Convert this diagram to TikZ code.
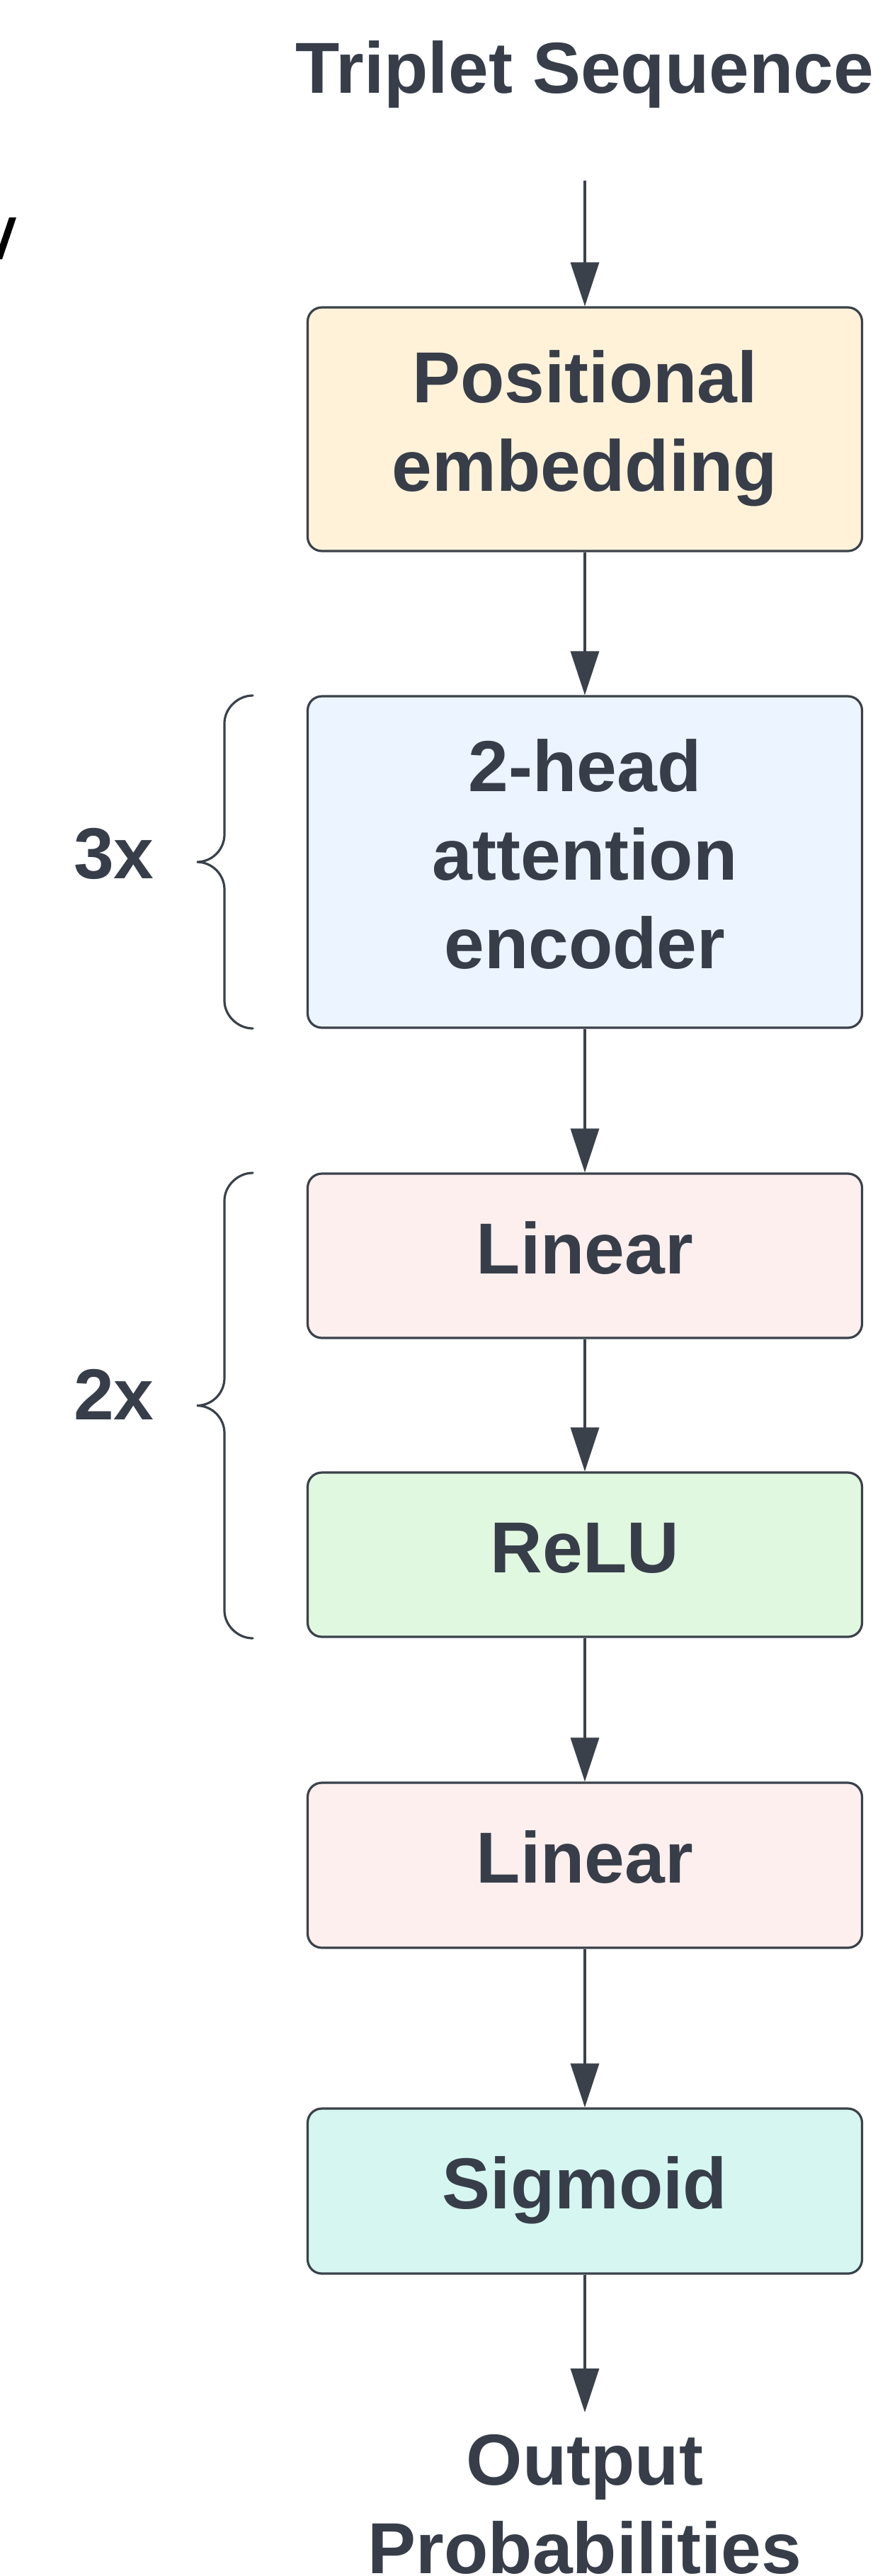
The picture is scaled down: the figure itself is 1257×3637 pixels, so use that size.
\documentclass[tikz,border=0pt]{standalone}
\usepackage{fontspec}
\setmainfont{Liberation Sans}
\usetikzlibrary{arrows.meta}

\definecolor{ink}{RGB}{55,62,73}
\definecolor{edge}{RGB}{58,65,74}
\definecolor{fillYellow}{RGB}{255,242,217}
\definecolor{fillBlue}{RGB}{236,244,255}
\definecolor{fillPink}{RGB}{253,239,238}
\definecolor{fillGreen}{RGB}{225,248,224}
\definecolor{fillCyan}{RGB}{214,247,241}

% centred stack of lines, baseline on the first line when [t] is given
\newcommand{\stacklines}[2][c]{\begin{tabular}[#1]{@{}c@{}}#2\end{tabular}}
\newcommand{\labelfont}{\fontsize{51pt}{62.5pt}\selectfont\bfseries}

\tikzset{
  layerbox/.style={draw=edge, line width=1.6pt, rounded corners=10pt,
    inner sep=0pt, minimum width=391.5pt, text=ink, font=\labelfont},
  plaintext/.style={inner sep=0pt, text=ink, font=\labelfont},
  flow/.style={draw=edge, line width=1.6pt,
    -{Triangle[width=20pt,length=31pt]}},
  bracket/.style={draw=edge, line width=1.6pt, line cap=round}
}

\begin{document}
\begin{tikzpicture}[x=0.5pt, y=-0.5pt]
  \useasboundingbox (0,0) rectangle (1257,3637);

  % stray italic stroke at the upper left edge
  \fill[black] (13,307) -- (23,307) -- (3,366) -- (-7,366) -- cycle;

  % input and output labels
  \node[plaintext, anchor=base] (title) at (826,131) {Triplet Sequence};
  \node[plaintext, anchor=base] (outp) at (826,3508)
    {\stacklines[t]{Output\\Probabilities}};

  % network layers
  \node[layerbox, fill=fillYellow, minimum height=172pt] (pos) at (826,606)
    {\stacklines{Positional\\embedding}};
  \node[layerbox, fill=fillBlue, minimum height=234pt] (att) at (826,1217)
    {\stacklines{2-head\\attention\\encoder}};
  \node[layerbox, fill=fillPink, minimum height=116pt] (lin1) at (826,1773)
    {\stacklines{Linear}};
  \node[layerbox, fill=fillGreen, minimum height=116pt] (relu) at (826,2195)
    {\stacklines{ReLU}};
  \node[layerbox, fill=fillPink, minimum height=116.5pt] (lin2) at (826,2633.5)
    {\stacklines{Linear}};
  \node[layerbox, fill=fillCyan, minimum height=116.5pt] (sig) at (826,3093.5)
    {\stacklines{Sigmoid}};

  % free ends of the input and output arrows
  \coordinate (inStart) at (826,255);
  \coordinate (outEnd) at (826,3406);

  % data flow
  \draw[flow] (inStart) -- (pos);
  \draw[flow] (pos) -- (att);
  \draw[flow] (att) -- (lin1);
  \draw[flow] (lin1) -- (relu);
  \draw[flow] (relu) -- (lin2);
  \draw[flow] (lin2) -- (sig);
  \draw[flow] (sig) -- (outEnd);

  % repetition braces
  \draw[bracket] (357,982) .. controls (335.5,982) and (317,1000.5) .. (317,1021)
    -- (317,1178) .. controls (317,1199.5) and (299.5,1217) .. (278,1217)
    .. controls (299.5,1217) and (317,1234.5) .. (317,1256)
    -- (317,1413) .. controls (317,1433.5) and (335.5,1452) .. (357,1452);
  \draw[bracket] (357,1656) .. controls (335.5,1656) and (317,1674.5) .. (317,1695)
    -- (317,1945.5) .. controls (317,1967) and (299.5,1984.5) .. (278,1984.5)
    .. controls (299.5,1984.5) and (317,2002) .. (317,2023.5)
    -- (317,2274) .. controls (317,2294.5) and (335.5,2313) .. (357,2313);

  % repetition counts
  \node[plaintext, anchor=base] (rep3) at (161,1240) {3x};
  \node[plaintext, anchor=base] (rep2) at (161,2004) {2x};
\end{tikzpicture}
\end{document}
